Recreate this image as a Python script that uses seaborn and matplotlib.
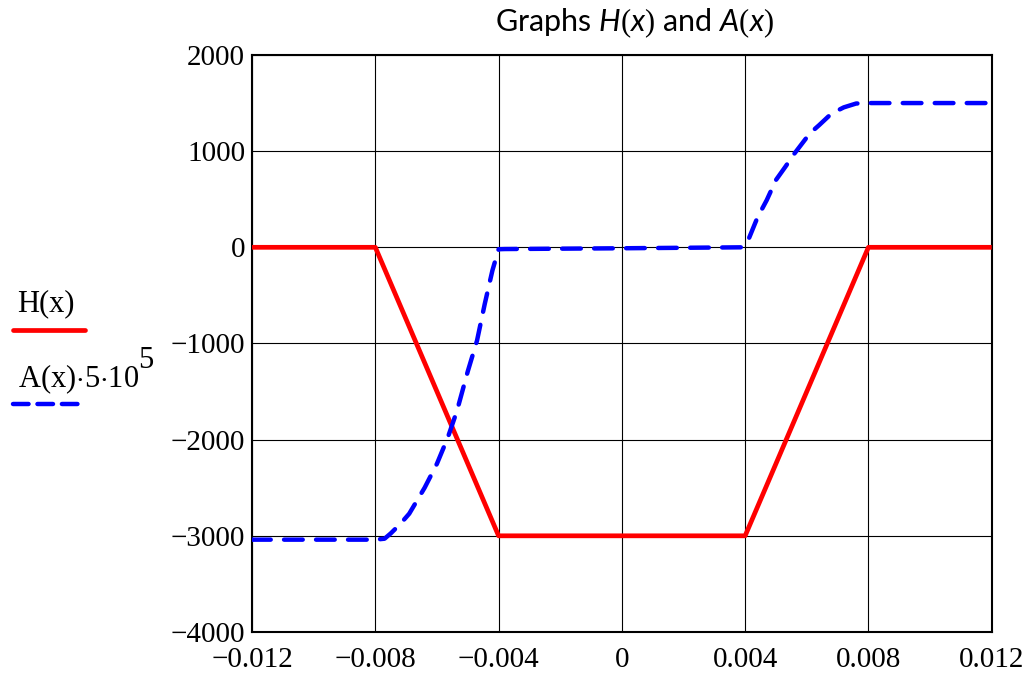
import numpy as np
import pandas as pd
import matplotlib.pyplot as plt
import seaborn as sns
from matplotlib.lines import Line2D

# H(x): trapezoid
h_x = [-0.012, -0.008, -0.004, 0.004, 0.008, 0.012]
h_y = [0, 0, -3000, -3000, 0, 0]

# A(x)*5e5
a_x = [-0.012, -0.0080, -0.0077, -0.0075, -0.0072, -0.0069, -0.0064, -0.0060,
       -0.00565, -0.00535, -0.0050, -0.0047, -0.00445, -0.0042, -0.0040,
       -0.0038, 0.0, 0.0039, 0.0041, 0.0044, 0.0047, 0.0050, 0.0053, 0.0056,
       0.0061, 0.0064, 0.0068, 0.0072, 0.0076, 0.0080, 0.012]
a_y = [-3040, -3040, -3030, -2975, -2880, -2770, -2500, -2250,
       -1980, -1700, -1290, -970, -590, -240, -20,
       -18, -10, 0, 75, 310, 490, 700, 835, 975,
       1185, 1270, 1390, 1455, 1495, 1500, 1500]

x_ticks = [-0.012, -0.008, -0.004, 0, 0.004, 0.008, 0.012]
x_labels = ["\u22120.012", "\u22120.008", "\u22120.004", "0", "0.004", "0.008", "0.012"]
y_ticks = [2000, 1000, 0, -1000, -2000, -3000, -4000]
y_labels = ["2000", "1000", "0", "\u22121000", "\u22122000", "\u22123000", "\u22124000"]

sns.set_style("white")
plt.rcParams['font.family'] = ['Liberation Serif', 'DejaVu Serif']
plt.rcParams['text.color'] = 'black'
plt.rcParams['mathtext.fontset'] = 'custom'
plt.rcParams['mathtext.rm'] = 'Liberation Serif'
plt.rcParams['mathtext.it'] = 'Lato:italic'

fig = plt.figure(figsize=(10.33, 6.77), dpi=100)
ax = fig.add_axes([0.244, 0.0665, 0.716, 0.8523])

df_h = pd.DataFrame({"x": h_x, "y": h_y})
df_a = pd.DataFrame({"x": a_x, "y": a_y})
sns.lineplot(data=df_h, x="x", y="y", ax=ax, color="#ff0000", lw=3.4,
             sort=False, estimator=None, solid_capstyle="butt", zorder=3)
sns.lineplot(data=df_a, x="x", y="y", ax=ax, color="#0000ff", lw=3.2,
             sort=False, estimator=None, linestyle=(0, (4.2, 3.0)),
             dash_capstyle="round", zorder=4)

ax.set_xlim(-0.012, 0.012)
ax.set_ylim(-4000, 2000)
ax.set_xticks(x_ticks)
ax.set_xticklabels(x_labels)
ax.set_yticks(y_ticks)
ax.set_yticklabels(y_labels)
ax.tick_params(length=0, labelsize=21, labelcolor="black")
ax.tick_params(axis="x", pad=11)
ax.tick_params(axis="y", pad=5)
ax.grid(True, color="black", lw=0.8)
for s in ax.spines.values():
    s.set_color("black")
    s.set_linewidth(1.5)
ax.set_xlabel("")
ax.set_ylabel("")

# title with italic parts
fig.text(0.614, 0.965, "Graphs $\\mathit{H(x)}$ and $\\mathit{A(x)}$",
         ha="center", va="center", fontsize=22, family=["Lato", "DejaVu Sans"])

# legend drawn to the left of the axes
fig.text(0.017, 0.552, "H(x)", fontsize=22, ha="left", va="center")
fig.add_artist(Line2D([0.013, 0.082], [0.512, 0.512], transform=fig.transFigure,
                      color="#ff0000", lw=3.4, solid_capstyle="round"))
t = fig.text(0.017, 0.44, "A(x)$\\cdot$5$\\cdot$10", fontsize=22,
             ha="left", va="center")
ax.annotate("5", xy=(1.0, 0.62), xycoords=t, ha="left", va="bottom",
            fontsize=22, annotation_clip=False)
fig.add_artist(Line2D([0.013, 0.082], [0.403, 0.403], transform=fig.transFigure,
                      color="#0000ff", lw=3.2, linestyle=(0, (3.5, 2.0)),
                      dash_capstyle="round"))

fig.savefig("out.png", dpi=100)
